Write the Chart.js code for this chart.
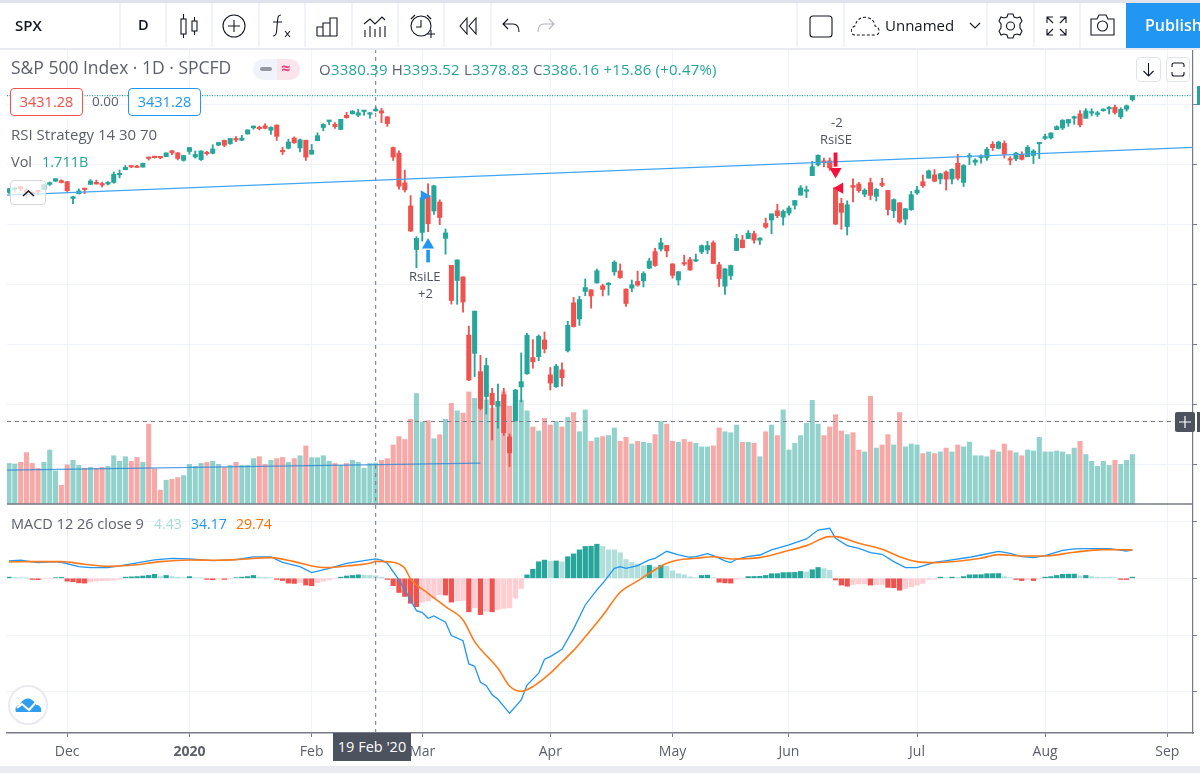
<!DOCTYPE html>
<html><head><meta charset="utf-8"><title>SPX</title>
<script src="https://cdn.jsdelivr.net/npm/chart.js@4"></script>
<style>
html,body{margin:0;padding:0;background:#fff;width:1200px;height:773px;overflow:hidden;font-family:"Open Sans","Noto Sans",sans-serif}
#c{position:absolute;left:0;top:0}
.t{position:absolute;white-space:nowrap;line-height:1}
.sep{position:absolute;top:3px;width:2px;height:44px;background:#f0f3fa}
svg.i{position:absolute;fill:none;stroke:#131722;stroke-width:1.1}
.box{position:absolute;box-sizing:border-box;background:#fff;border-radius:4px;text-align:center;font-size:14.5px;line-height:26px}
</style></head><body>
<canvas id="c" width="1200" height="773"></canvas>

<div style="position:absolute;left:0;top:0;width:1200px;height:3px;background:#e0e3eb"></div>
<div style="position:absolute;left:0;top:48px;width:1200px;height:2px;background:#e9ebf1"></div>
<div style="position:absolute;left:0;top:766px;width:1200px;height:7px;background:#e9ebf1"></div>
<div class="sep" style="left:119px"></div><div class="sep" style="left:165px"></div><div class="sep" style="left:211px"></div><div class="sep" style="left:258px"></div><div class="sep" style="left:304px"></div><div class="sep" style="left:351px"></div><div class="sep" style="left:397px"></div><div class="sep" style="left:443px"></div><div class="sep" style="left:490px"></div><div class="sep" style="left:796px"></div><div class="sep" style="left:843px"></div><div class="sep" style="left:986px"></div><div class="sep" style="left:1033px"></div><div class="sep" style="left:1079px"></div>
<div class="t" style="left:15px;top:18px;font-size:15px;font-weight:600;color:#131722">SPX</div>
<div class="t" style="left:138px;top:18px;font-size:14.5px;font-weight:600;color:#131722">D</div>
<svg class="i" style="left:178px;top:12px" width="22" height="28"><rect x="3" y="7" width="5" height="15"/><path d="M5.5 2v5M5.5 22v4"/><rect x="14" y="9" width="5" height="10"/><path d="M16.5 5v4M16.5 19v4"/></svg>
<svg class="i" style="left:222px;top:14px" width="24" height="24"><circle cx="12" cy="12" r="11"/><path d="M12 6v12M6 12h12"/></svg>
<svg class="i" style="left:270px;top:13px" width="24" height="26"><path d="M11 2c-3 0-3 2-3.500 6l-1 11c-.5 3-1.500 4-3.500 4M3 9h9M15 18l5 6M20 18l-5 6"/></svg>
<svg class="i" style="left:316px;top:16px" width="23" height="22"><path d="M1 20V11h6v9M7 20V7h7v13M14 20V2h7v18M1 20h20"/></svg>
<svg class="i" style="left:363px;top:15px" width="24" height="24"><path d="M1 9l6-5 5 5 7-7 3 3M2 15v7M7 11v11M12 14v8M17 12v10M22 11v11"/></svg>
<svg class="i" style="left:409px;top:13px" width="26" height="28"><circle cx="12" cy="13" r="10"/><path d="M12 7v7H7M2 6l4-4M22 6l-4-4M18 21h8M22 17v8"/></svg>
<svg class="i" style="left:458px;top:17px" width="20" height="18"><path d="M9 1L2 9l7 8zM18 1l-7 8 7 8z"/></svg>
<svg class="i" style="left:502px;top:18px" width="18" height="16"><path d="M6 1L1 6l5 5M1 6h10c4 0 6 3 6 8"/></svg>
<svg class="i" style="left:537px;top:18px;stroke:#b2b5be" width="18" height="16"><path d="M12 1l5 5-5 5M17 6H7c-4 0-6 3-6 8"/></svg>
<svg class="i" style="left:809px;top:15px" width="24" height="23"><rect x="1" y="1" width="22" height="21" rx="3"/></svg>
<svg class="i" style="left:851px;top:16px;stroke-dasharray:3 2" width="30" height="21"><path d="M4 19C-1 19-1 11 4 10 6 2 12 0 18 2c5 2 6 6 6 8 5 1 6 9 0 9z"/></svg>
<div class="t" style="left:885px;top:18px;font-size:15px;color:#131722">Unnamed</div>
<svg class="i" style="left:969px;top:22px" width="12" height="8"><path d="M1 1l5 5 5-5"/></svg>
<svg class="i" style="left:998px;top:13px" width="25" height="26"><circle cx="12.500" cy="13" r="4"/><path d="M10 1h5l1 3 3 1 3-1 2 4-2 3v4l2 3-2 4-3-1-3 1-1 3h-5l-1-3-3-1-3 1-2-4 2-3v-4L1 8l2-4 3 1 3-1z"/></svg>
<svg class="i" style="left:1046px;top:16px" width="21" height="20"><path d="M1 7V1h6M1 1l6 6M20 7V1h-6M20 1l-6 6M1 13v6h6M1 19l6-6M20 13v6h-6M20 19l-6-6"/></svg>
<svg class="i" style="left:1090px;top:14px" width="25" height="22"><path d="M1 5h6l2-4h7l2 4h6v16H1z"/><circle cx="12.500" cy="12" r="5"/></svg>
<div style="position:absolute;left:1126px;top:3px;width:74px;height:45px;background:#2196f3"></div>
<div class="t" style="left:1145px;top:17px;font-size:16px;font-weight:600;color:#fff">Publish</div>

<div class="t" style="left:11px;top:59px;font-size:17.5px;color:#5d606b">S&amp;P 500 Index · 1D · SPCFD</div>
<div style="position:absolute;left:253px;top:59px;width:24px;height:21px;background:#f0f3fa;border-radius:11px 0 0 11px"></div>
<div style="position:absolute;left:277px;top:59px;width:23px;height:21px;background:#fce4ec;border-radius:0 11px 11px 0"></div>
<div style="position:absolute;left:260px;top:67px;width:12px;height:4px;background:#9598a1;border-radius:2px"></div>
<div class="t" style="left:281px;top:60px;font-size:16px;font-weight:700;color:#ec407a">≈</div>
<div class="t" id="ohlc" style="left:319px;top:62px;font-size:15px;letter-spacing:.2px;color:#26a69a"><span style="color:#5d606b">O</span>3380.39 <span style="color:#5d606b">H</span>3393.52 <span style="color:#5d606b">L</span>3378.83 <span style="color:#5d606b">C</span>3386.16 +15.86 (+0.47%)</div>
<div class="box" style="left:10px;top:88px;width:73px;height:28px;border:1px solid #ef5350;color:#ef5350">3431.28</div>
<div class="t" style="left:92px;top:95px;font-size:13.500px;color:#5d606b">0.00</div>
<div class="box" style="left:128px;top:88px;width:73px;height:28px;border:1px solid #2196f3;color:#2196f3">3431.28</div>
<div class="t" style="left:11px;top:127px;font-size:15px;color:#5d606b">RSI Strategy 14 30 70</div>
<div class="t" style="left:11px;top:155px;font-size:14.500px;color:#5d606b">Vol</div>
<div class="t" style="left:42px;top:155px;font-size:14.500px;color:#26a69a">1.711B</div>
<div style="position:absolute;left:10px;top:180px;width:36px;height:25px;box-sizing:border-box;background:rgba(255,255,255,.72);border:1px solid #d6d8e0;border-radius:4px"></div>
<svg class="i" style="left:22px;top:189px;stroke-width:1.5" width="13" height="8"><path d="M1 7l5.500-5L12 7"/></svg>
<div class="box" style="left:1136px;top:57px;width:25px;height:25px;border:1px solid #e0e3eb"></div>
<svg class="i" style="left:1142px;top:62px" width="13" height="15"><path d="M6.500 1v13M1.500 9l5 5 5-5"/></svg>
<div class="box" style="left:1166px;top:57px;width:24px;height:25px;border:1px solid #e0e3eb"></div>
<svg class="i" style="left:1171px;top:62px" width="14" height="15"><path d="M1 5V3c0-1 1-2 2-2h8c1 0 2 1 2 2v2M1 10v2c0 1 1 2 2 2h8c1 0 2-1 2-2v-2"/></svg>
<div style="position:absolute;left:1197px;top:86px;width:3px;height:19px;background:#26a69a"></div>

<div class="t" style="left:409px;top:270px;font-size:13px;color:#4c525e">RsiLE</div>
<div class="t" style="left:418px;top:287px;font-size:13px;color:#4c525e">+2</div>
<div class="t" style="left:831px;top:116px;font-size:13px;color:#4c525e">-2</div>
<div class="t" style="left:820px;top:133px;font-size:13px;color:#4c525e">RsiSE</div>

<div class="t" style="left:11px;top:517px;font-size:14.5px;color:#5d606b">MACD 12 26 close 9</div>
<div class="t" style="left:154px;top:517px;font-size:14px;color:#a8dcd6">4.43</div>
<div class="t" style="left:191px;top:517px;font-size:14px;color:#2196f3">34.17</div>
<div class="t" style="left:236px;top:517px;font-size:14px;color:#ff6d00">29.74</div>

<div style="position:absolute;left:8px;top:685px;width:40px;height:40px;box-sizing:border-box;background:#fff;border:2px solid #e9ebf1;border-radius:50%"></div>
<svg style="position:absolute;left:15px;top:696px" width="27" height="18"><path d="M1 16C-1 11 3 9 5 9 7 3 13 1 17 4 20 6 21 8 21 9 25 9 27 12 26 16z" fill="#2e9ef0"/><path d="M2 12l5-4 7 6 8-9 3 3" fill="none" stroke="#fff" stroke-width="2"/></svg>

<div style="position:absolute;left:333px;top:733px;width:78px;height:28px;background:#4c525e;color:#fff;font-size:14.5px;line-height:28px;text-align:center">19 Feb '20</div>
<div style="position:absolute;left:1175px;top:412px;width:20px;height:20px;background:#4c525e;border-radius:2px"></div>
<svg style="position:absolute;left:1179px;top:416px" width="12" height="12"><path d="M6 0v12M0 6h12" stroke="#fff" stroke-width="1.200"/></svg>
<div style="position:absolute;left:1197px;top:412px;width:3px;height:20px;background:#4c525e"></div>

<script>
const opens=[3107.92,3117.91,3127.45,3114.66,3108.49,3111.41,3117.44,3134.85,3145.49,3147.18,3143.85,3087.41,3103.50,3119.21,3134.62,3141.86,3135.36,3135.75,3141.23,3166.65,3183.63,3195.40,3195.21,3192.32,3223.33,3226.05,3225.45,3227.20,3247.23,3240.09,3215.18,3244.67,3226.36,3217.55,3241.86,3238.59,3266.03,3281.81,3271.13,3285.35,3282.27,3302.97,3323.66,3321.03,3330.02,3315.77,3333.10,3247.16,3255.35,3289.46,3256.45,3282.33,3235.66,3280.61,3324.91,3344.92,3335.54,3318.28,3365.87,3370.50,3365.90,3378.08,3369.04,3380.39,3380.45,3360.50,3257.61,3238.94,3139.90,3062.54,2916.90,2974.28,3096.46,3045.75,3075.70,2954.20,2863.89,2813.48,2825.60,2630.86,2569.99,2508.59,2425.66,2436.50,2393.48,2431.94,2290.71,2344.44,2457.77,2501.29,2555.87,2558.98,2614.69,2498.08,2458.54,2514.92,2578.28,2738.65,2685.00,2776.99,2782.46,2805.10,2795.64,2799.34,2842.43,2845.62,2784.81,2787.89,2810.42,2812.64,2854.65,2909.96,2918.46,2930.91,2869.09,2815.01,2868.88,2883.14,2878.26,2908.83,2915.46,2939.50,2865.86,2794.54,2829.95,2913.86,2948.59,2953.63,2969.95,2948.05,3004.08,3015.65,3046.61,3025.17,3038.78,3064.78,3098.90,3111.56,3163.84,3199.92,3213.32,3213.42,3123.53,3071.04,2993.76,3131.00,3136.13,3101.64,3140.29,3094.42,3138.70,3114.40,3046.60,3073.20,3018.59,3050.20,3105.92,3143.64,3155.29,3166.44,3153.07,3176.17,3152.47,3205.08,3141.11,3225.98,3208.36,3224.21,3224.29,3268.52,3254.86,3271.64,3218.58,3219.84,3234.27,3227.22,3231.76,3270.45,3288.26,3289.92,3317.37,3323.17,3340.05,3356.04,3370.34,3355.46,3372.95,3368.66,3380.86,3387.04,3392.51,3360.48,3386.01,3418.09];
const highs=[3120.46,3124.17,3127.64,3118.97,3110.11,3112.87,3133.83,3142.69,3154.26,3150.30,3144.31,3094.97,3119.38,3119.45,3150.60,3148.87,3142.12,3143.98,3176.28,3182.68,3197.71,3198.22,3198.48,3205.48,3225.65,3227.78,3226.43,3240.08,3247.93,3240.92,3231.72,3258.14,3246.15,3246.84,3244.91,3267.07,3275.58,3282.99,3288.13,3294.25,3298.66,3317.11,3329.88,3329.79,3337.77,3326.88,3333.18,3258.85,3285.78,3293.47,3285.91,3282.33,3268.44,3306.92,3337.58,3347.96,3341.42,3352.26,3375.63,3381.47,3385.09,3380.69,3375.01,3393.52,3389.15,3360.76,3259.81,3246.99,3182.51,3097.07,2959.72,3090.96,3136.72,3130.97,3083.04,2985.93,2863.89,2882.59,2825.60,2660.95,2711.33,2562.98,2553.93,2453.57,2466.97,2453.01,2300.73,2449.71,2571.42,2637.01,2615.91,2631.80,2641.39,2522.75,2533.22,2538.18,2676.85,2756.89,2760.75,2818.57,2782.46,2851.85,2801.88,2806.51,2879.22,2868.98,2785.54,2815.10,2844.90,2842.71,2887.72,2921.15,2954.86,2930.91,2869.09,2844.24,2898.23,2891.11,2901.92,2932.16,2944.25,2945.82,2874.14,2852.80,2865.01,2968.09,2964.21,2980.29,2978.50,2956.76,3021.72,3036.25,3068.67,3049.17,3062.18,3081.07,3130.94,3128.91,3211.72,3233.13,3222.71,3223.27,3123.53,3088.42,3079.76,3153.45,3141.16,3120.00,3155.53,3120.92,3154.90,3115.01,3086.25,3073.73,3053.89,3111.51,3128.44,3165.81,3182.59,3184.15,3171.80,3179.78,3186.82,3235.32,3200.95,3238.28,3220.39,3233.52,3258.61,3277.29,3279.32,3279.99,3227.26,3241.43,3243.72,3264.74,3250.92,3272.17,3302.73,3306.84,3330.77,3351.03,3352.54,3363.29,3381.01,3387.89,3387.24,3378.51,3387.59,3395.06,3399.54,3390.80,3399.96,3432.09];
const lows=[3104.60,3112.06,3113.47,3091.41,3094.55,3099.26,3117.44,3131.00,3143.41,3139.34,3110.78,3070.33,3102.53,3103.76,3134.62,3135.46,3126.09,3133.21,3138.47,3156.51,3183.63,3191.03,3191.14,3192.32,3216.03,3222.30,3220.51,3227.20,3234.37,3216.57,3212.03,3235.53,3222.34,3214.64,3232.43,3236.67,3263.67,3260.86,3268.43,3277.19,3280.69,3302.82,3318.86,3316.61,3320.04,3301.87,3281.53,3234.50,3253.22,3271.89,3242.80,3214.68,3235.66,3280.61,3313.75,3334.39,3322.12,3317.77,3355.61,3369.72,3360.52,3366.15,3355.61,3378.83,3341.02,3328.45,3214.65,3118.77,3108.99,2977.39,2855.84,2945.19,2976.63,3034.38,2999.83,2901.54,2734.43,2734.00,2707.22,2478.86,2492.37,2380.94,2367.04,2280.52,2319.78,2295.56,2191.86,2344.44,2407.53,2500.72,2520.02,2545.28,2571.15,2447.49,2455.79,2459.96,2574.57,2657.67,2663.30,2762.36,2721.17,2805.10,2761.54,2764.32,2830.88,2820.43,2727.10,2775.95,2794.26,2791.76,2852.89,2860.71,2912.16,2892.47,2821.61,2797.85,2863.55,2847.65,2876.48,2902.88,2903.44,2869.59,2793.15,2766.64,2816.78,2913.86,2922.35,2953.63,2938.57,2933.59,2988.17,2969.75,3023.40,2998.61,3031.54,3051.64,3098.90,3090.41,3163.84,3196.00,3193.11,3181.49,2999.49,2984.47,2965.66,3076.06,3108.03,3093.51,3083.11,3079.39,3127.12,3032.13,3024.01,3004.63,2999.74,3047.83,3101.17,3124.52,3155.29,3142.93,3136.53,3115.70,3136.22,3149.43,3127.66,3200.76,3198.59,3205.65,3215.16,3247.77,3253.10,3222.66,3200.05,3214.25,3216.17,3227.22,3204.13,3220.26,3284.53,3286.37,3317.37,3318.14,3328.72,3335.44,3326.44,3355.46,3363.35,3361.64,3379.22,3370.15,3369.66,3354.69,3379.31,3413.13];
const closes=[3120.46,3122.03,3120.18,3108.46,3103.54,3110.29,3133.64,3140.52,3153.63,3140.98,3113.87,3093.20,3112.76,3117.43,3145.91,3135.96,3132.52,3141.63,3168.57,3168.80,3191.45,3192.52,3191.14,3205.37,3221.22,3224.01,3223.38,3239.91,3240.02,3221.29,3230.78,3257.85,3234.85,3246.28,3237.18,3253.05,3274.70,3265.35,3288.13,3283.15,3289.29,3316.81,3329.62,3320.79,3321.75,3325.54,3295.47,3243.63,3276.24,3273.40,3283.66,3225.52,3248.92,3297.59,3334.69,3345.78,3327.71,3352.09,3357.75,3379.45,3373.94,3380.16,3370.29,3386.16,3373.23,3337.75,3225.89,3128.21,3116.39,2978.76,2954.22,3090.23,3003.37,3130.12,3023.94,2972.37,2746.56,2882.23,2741.38,2480.64,2711.02,2386.13,2529.19,2398.10,2409.39,2304.92,2237.40,2447.33,2475.56,2630.07,2541.47,2626.65,2584.59,2470.50,2526.90,2488.65,2663.68,2659.41,2749.98,2789.82,2761.63,2846.06,2783.36,2799.55,2874.56,2823.16,2736.56,2799.31,2797.80,2836.74,2878.48,2863.39,2939.51,2912.43,2830.71,2842.74,2868.44,2848.42,2881.19,2929.80,2930.19,2870.12,2820.00,2852.50,2863.70,2953.91,2922.94,2971.61,2948.51,2955.45,2991.77,3036.13,3029.73,3044.31,3055.73,3080.82,3122.87,3112.35,3193.93,3232.39,3207.18,3190.14,3002.10,3041.31,3066.59,3124.74,3113.49,3115.34,3097.74,3117.86,3131.29,3050.33,3083.76,3009.05,3053.24,3100.29,3115.86,3130.01,3179.72,3145.32,3169.94,3152.05,3185.04,3155.22,3197.52,3226.56,3215.57,3224.73,3251.84,3257.30,3276.02,3235.66,3215.63,3239.41,3218.44,3258.44,3246.22,3271.12,3294.61,3306.51,3327.77,3349.16,3351.28,3360.47,3333.69,3380.35,3373.43,3372.85,3381.99,3389.78,3374.85,3385.51,3397.16,3431.28];
const volumes=[1.69,1.67,1.74,2.14,1.69,1.49,1.74,2.25,1.38,0.78,1.63,1.82,1.61,1.49,1.53,1.49,1.53,1.57,2.01,1.78,1.97,1.78,1.94,1.74,3.33,1.47,0.58,0.99,1.03,1.10,1.18,1.65,1.57,1.69,1.74,1.78,1.65,1.53,1.61,1.74,1.61,1.61,1.89,1.97,1.65,1.82,1.89,1.94,1.74,1.89,2.01,2.42,1.93,1.93,2.01,1.78,1.69,1.61,1.69,1.82,1.74,1.49,1.69,1.71,1.82,1.89,2.46,2.81,2.69,3.53,4.60,3.42,3.47,2.72,2.89,3.53,4.19,3.88,3.79,4.67,4.40,4.26,4.33,3.99,4.13,4.68,4.08,3.50,4.33,3.88,3.21,3.04,3.57,3.29,3.44,3.21,3.61,3.81,3.01,3.92,2.61,2.76,2.81,2.85,3.17,2.61,2.78,2.50,2.61,2.57,2.53,2.89,3.44,3.33,2.61,2.57,2.69,2.58,2.53,2.38,2.38,2.42,3.17,3.01,2.97,3.29,2.57,2.57,2.53,1.97,3.01,3.29,2.85,3.92,2.25,2.53,2.85,3.36,4.32,3.33,2.85,3.21,3.72,3.04,2.89,2.97,2.25,2.17,4.49,2.33,2.46,2.89,2.46,3.81,2.38,2.50,2.46,2.10,2.17,2.10,2.17,2.33,2.17,2.46,2.38,2.58,2.01,2.01,1.97,2.25,2.17,2.50,2.22,2.14,2.01,2.25,2.21,2.78,2.17,2.17,2.21,2.17,2.06,2.33,2.61,2.06,1.78,1.57,1.78,1.61,1.82,1.65,1.82,2.06];
const macdHist=[2,1.5,1,0.7,-2,-2.5,-1,-0.7,1,1.5,-5,-6,-8,-8.5,-6,-5,-4.5,-4,-3.5,-2,2,2.5,3,4,5,7,3,5,3,2,1,3,1,0.7,-2,-2.5,-1,-2,-1,1,2,3,5,2,1.5,1,-2,-4,-8.5,-9,-8,-12,-13,-8,-5,-3,-1,2,4,5,6,5.5,5,4.43,2,-2,-13,-25,-32,-44,-50,-42,-40,-35,-29,-29.5,-42,-40,-39,-59,-52,-64,-58,-59,-55,-53,-52,-35,-18,6,16,29,32,30,30.5,29,38,43,50,56,56.5,60,56,50,50,45,33,28,25,22,23,20,23,21,13,8,6,2.5,1,5,5.5,1,-7,-8,-8.5,-2,-1,3,3.2,3.4,5,8,8.2,10,10.2,10.4,12,11,15,19,17,14,-3,-12,-14,-11,-10,-9.5,-12,-11.5,-11,-16,-16.5,-21,-18,-15,-12,-9,-2,-1.5,2,1,2,1.5,3,6,6.2,6.4,8,8.2,8.4,3,1,-2,-4,-2,-4,-1,2,3,5,7,7.2,7.4,4,5,3,2,1.8,1.6,1,-2,-2.2,2];
const macdLineIdx=[0,2,5,8,9,12,14,17,19,21,22,25,28,31,35,39,42,45,47,50,52,55,58,61,63,64,65,67,68,70,71,72,73,75,76,78,79,80,81,82,83,84,86,88,89,91,92,93,95,97,99,101,102,104,105,106,108,110,111,113,115,117,118,120,121,123,124,125,127,129,131,134,137,139,141,142,144,146,148,150,152,154,156,157,159,162,165,167,170,172,174,176,178,181,183,185,189,192,193];
const macdLineVal=[30.5,31.7,27.6,29.3,28.2,20.5,18.8,18.8,21.7,25.2,27,32.3,35.2,34,31.1,32.9,37.6,37.6,28.2,20.5,10,17.6,26.4,31.1,34.17,32,26.4,-2.9,-20.5,-56.9,-60.4,-70.4,-66.3,-77.5,-100.9,-110,-150.8,-154.9,-183,-189,-205,-213,-237.7,-214,-188,-167,-142.6,-138,-125,-89,-47,-20.5,-8.8,17.6,20.5,17.6,22.3,32.3,35.2,47.5,41,37,38,43.4,40,30.5,27.6,33.5,38.7,41,49.9,58.7,69.2,85,88,70.4,57.5,52.8,45.2,42.3,29.3,18.8,18.8,21.7,28.2,32.3,37,41,47.5,44,38,36.4,40,49.3,51.6,52.2,52.2,48,50];
const signalIdx=[0,4,9,13,17,21,26,31,36,40,45,49,53,55,58,62,63,66,68,69,72,75,78,80,84,86,88,90,93,95,97,99,102,105,108,110,113,115,118,121,124,129,133,137,141,142,146,150,153,156,159,163,167,170,174,178,183,188,193];
const signalVal=[28.8,29.3,29.3,24.6,21,22.9,29.3,32.3,31.7,33.5,36.4,29.3,20,18.8,21.7,26.4,29.74,28.2,17.6,-1.2,-26.4,-49.9,-73.4,-111.5,-158.5,-189.6,-199,-190.7,-167,-147,-127,-103,-65.7,-24.6,-4.7,8.8,26.4,32.3,35.2,38,34,36.4,46.4,57.5,73.4,73.4,61.6,51,38,29.3,27.6,30,35.2,41.7,39.3,39.3,45.8,50.5,50];
const monthTickIdx=[10,31,52,71,93,114,134,156,178,199];
const monthTickLabels=['Dec','2020','Feb','Mar','Apr','May','Jun','Jul','Aug','Sep'];
const priceTicks=[3400,3200,3000,2800,2600,2400,2200];
const macdTicks=[100,0,-100,-200];
const lastPrice=[3431.28];
const crosshairBar=[63];
const crosshairPrice=[2342];
const priceTrendIdx=[-0.34,203.41], priceTrendVal=[3098.5,3258.3];
const volTrendIdx=[-0.34,81], volTrendVal=[1.41,1.70];
const longArrow={idx:[72],shaft:[[2875,2915]],head:[2932]};
const longFlag={idx:[71.3],price:[3096]};
const shortArrow={idx:[142],shaft:[[3195,3240]],head:[3178]};
const shortFlag={idx:[142.75],price:[3122]};

const UP='#26a69a',DOWN='#ef5350',UPV='rgba(38,166,154,.5)',DOWNV='rgba(239,83,80,.5)';
const xMin=-0.3407,xMax=203.41,pMin=1301.1,pMax=3583.8;
const isUp=i=>closes[i]>=opens[i];
const pts=(xs,ys)=>xs.map((x,k)=>({x,y:ys[k]}));
const histColor=c=>{const i=c.dataIndex,v=macdHist[i],p=i?macdHist[i-1]:0;return v>=0?(v>p?UP:'#b2dfdb'):(v>p?'#ffcdd2':DOWN)};
const level=(v,yAxisID,borderColor,dash,order,w)=>({type:'line',data:[{x:xMin,y:v},{x:xMax,y:v}],yAxisID,xAxisID:'x',borderColor,borderWidth:w||1,borderDash:dash||[],pointRadius:0,order});
const hideY=(extra)=>Object.assign({position:'right',afterFit:s=>{s.width=0},ticks:{display:false,autoSkip:false},border:{display:false}},extra);

new Chart(document.getElementById('c'),{
  type:'bar',
  data:{datasets:[
    {label:'Volume',data:volumes.map((y,x)=>({x,y})),yAxisID:'yVol',backgroundColor:c=>isUp(c.dataIndex)?UPV:DOWNV,barThickness:4.4,grouped:false,order:20},
    {label:'MACD histogram',data:macdHist.map((y,x)=>({x,y})),yAxisID:'yMacd',backgroundColor:histColor,barThickness:4.6,grouped:false,order:19},
    {label:'Wicks',data:highs.map((h,x)=>({x,y:[lows[x],h]})),yAxisID:'yPrice',backgroundColor:c=>isUp(c.dataIndex)?UP:DOWN,barThickness:1.2,grouped:false,order:12},
    {label:'Bodies',data:opens.map((o,x)=>({x,y:[o,closes[x]]})),yAxisID:'yPrice',backgroundColor:c=>isUp(c.dataIndex)?UP:DOWN,barThickness:4.4,minBarLength:1.5,grouped:false,order:11},
    {type:'line',label:'Signal',data:pts(signalIdx,signalVal),yAxisID:'yMacd',borderColor:'#ff7a1a',borderWidth:1.6,pointRadius:0,cubicInterpolationMode:'monotone',order:8},
    {type:'line',label:'MACD',data:pts(macdLineIdx,macdLineVal),yAxisID:'yMacd',borderColor:'#2196f3',borderWidth:1.3,pointRadius:0,tension:0,order:9},
    {type:'line',label:'Trend',data:pts(priceTrendIdx,priceTrendVal),yAxisID:'yPrice',borderColor:'#42a5f5',borderWidth:1.2,pointRadius:0,order:7},
    {type:'line',label:'Vol trend',data:pts(volTrendIdx,volTrendVal),yAxisID:'yVol',borderColor:'rgba(33,130,220,.75)',borderWidth:1.2,pointRadius:0,order:7},
    {label:'Long shaft',data:pts(longArrow.idx,longArrow.shaft),yAxisID:'yPrice',backgroundColor:'#2196f3',barThickness:3,grouped:false,order:4},
    {type:'line',label:'Long head',data:pts(longArrow.idx,longArrow.head),yAxisID:'yPrice',showLine:false,pointStyle:'triangle',pointRadius:7,pointBackgroundColor:'#2196f3',pointBorderWidth:0,order:3},
    {type:'line',label:'Long flag',data:pts(longFlag.idx,longFlag.price),yAxisID:'yPrice',showLine:false,pointStyle:'triangle',pointRotation:90,pointRadius:6.5,pointBackgroundColor:'#2196f3',pointBorderWidth:0,order:3},
    {label:'Short shaft',data:pts(shortArrow.idx,shortArrow.shaft),yAxisID:'yPrice',backgroundColor:'#f5113c',barThickness:3.2,grouped:false,order:4},
    {type:'line',label:'Short head',data:pts(shortArrow.idx,shortArrow.head),yAxisID:'yPrice',showLine:false,pointStyle:'triangle',pointRotation:180,pointRadius:7,pointBackgroundColor:'#f5113c',pointBorderWidth:0,order:3},
    {type:'line',label:'Short flag',data:pts(shortFlag.idx,shortFlag.price),yAxisID:'yPrice',showLine:false,pointStyle:'triangle',pointRotation:-90,pointRadius:6.5,pointBackgroundColor:'#f5113c',pointBorderWidth:0,order:3},
    level(lastPrice[0],'yPrice',UP,[1,1.5],6,1.2),
    level(crosshairPrice[0],'yPrice','#787b86',[4,4],2),
    level(0,'yVol','#787b86',[],5,1.4),
    {type:'line',label:'Crosshair',data:[{x:crosshairBar[0],y:pMin},{x:crosshairBar[0],y:pMax}],yAxisID:'yPrice',borderColor:'#787b86',borderWidth:1,borderDash:[4,4],pointRadius:0,order:2}
  ]},
  options:{
    responsive:false,animation:false,devicePixelRatio:1,
    layout:{padding:{top:50,right:4,left:0,bottom:0}},
    plugins:{legend:{display:false},tooltip:{enabled:false}},
    events:[],
    scales:{
      x:{type:'linear',min:xMin,max:xMax,offset:false,
        afterBuildTicks:s=>{s.ticks=monthTickIdx.map(value=>({value}))},
        afterFit:s=>{s.height=40;s.paddingLeft=0;s.paddingRight=0},
        grid:{offset:false,color:'#f0f3fa',tickColor:'#787b86',tickLength:4,lineWidth:1},
        border:{display:true,color:'#787b86',width:1.4},
        ticks:{autoSkip:false,maxRotation:0,padding:7,color:'#5d606b',
          callback:v=>monthTickLabels[monthTickIdx.indexOf(v)],
          font:c=>({family:'"Open Sans"',size:14,weight:c.tick&&monthTickLabels[monthTickIdx.indexOf(c.tick.value)]==='2020'?'700':'400'})}},
      yPrice:hideY({min:pMin,max:pMax,beginAtZero:false,
        afterBuildTicks:s=>{s.ticks=priceTicks.map(value=>({value}))},
        border:{display:true,color:'#787b86',width:1.2},
        grid:{color:'#f0f3fa',tickColor:'#787b86',tickLength:4}}),
      yMacd:hideY({min:-272.4,max:930.1,beginAtZero:false,
        afterBuildTicks:s=>{s.ticks=macdTicks.map(value=>({value}))},
        grid:{color:'#f0f3fa',tickColor:'#787b86',tickLength:4}}),
      yVol:{display:false,position:'right',min:-9.5417,max:18.9167,beginAtZero:false}
    }
  }
});
</script>
</body></html>
